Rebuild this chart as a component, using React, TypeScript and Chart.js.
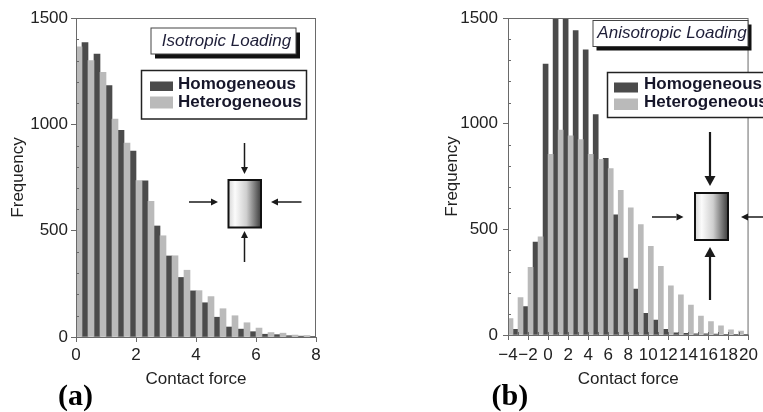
import React, { useEffect, useRef } from 'react';
import { Chart, registerables } from 'chart.js';

Chart.register(...registerables);

// ---------------- data ----------------
const seriesNames = ['Homogeneous', 'Heterogeneous'];
const xAxisTitle = 'Contact force';
const yAxisTitle = 'Frequency';
const yTickValues = [0, 500, 1000, 1500];

// Panel (a) – isotropic loading, bins of width 0.4
const binsA = [0.2, 0.6, 1.0, 1.4, 1.8, 2.2, 2.6, 3.0, 3.4, 3.8, 4.2, 4.6, 5.0, 5.4, 5.8, 6.2, 6.6, 7.0, 7.4, 7.8];
const homA = [1385, 1330, 1182, 972, 874, 734, 522, 381, 280, 217, 161, 93, 47, 37, 25, 13, 11, 6, 4, 3];
const hetA = [1365, 1300, 1245, 1025, 912, 735, 638, 476, 382, 314, 218, 190, 133, 100, 67, 42, 21, 18, 9, 7];
const xTicksA = [0, 2, 4, 6, 8];
const titleA = 'Isotropic Loading';
const letterA = '(a)';

// Panel (b) – anisotropic loading, bins of width 1
const binsB = [-3.5, -2.5, -1.5, -0.5, 0.5, 1.5, 2.5, 3.5, 4.5, 5.5, 6.5, 7.5, 8.5, 9.5, 10.5, 11.5, 12.5, 13.5, 14.5, 15.5, 16.5, 17.5, 18.5, 19.5];
const homB = [27, 135, 440, 1282, 1700, 1700, 1440, 1349, 1043, 836, 569, 364, 217, 103, 71, 27, 10, 8, 6, 5, 4, 3, 3, 2];
const hetB = [78, 177, 320, 465, 855, 970, 942, 925, 855, 831, 787, 684, 602, 523, 420, 325, 233, 190, 141, 90, 63, 43, 24, 19];
const xTicksB = [-4, -2, 0, 2, 4, 6, 8, 10, 12, 14, 16, 18, 20];
const titleB = 'Anisotropic Loading';
const letterB = '(b)';

// ---------------- style ----------------
const W = 763;
const H = 412;
const SANS = "'Liberation Sans', Arial, Helvetica, sans-serif";
const SERIF = "'Liberation Serif', 'Times New Roman', serif";
const LIGHT = '#bababa';
const DARK = '#4b4b4b';
const AXIS = '#6a6a6a';
const TEXT = '#222222';

type Arrow = [number, number, number, number, number, number, number];

interface Spec {
  bins: number[]; hom: number[]; het: number[]; xTicks: number[];
  xMin: number; xMax: number; minorX: number;
  title: string; letter: string;
  canvasLeft: number; canvasWidth: number;
  plotLeft: number; plotRight: number; plotTop: number; plotBottom: number;
  yTickPad: number; xTickPad: number; yTitlePad: number;
  titleBox: { x: number; y: number; w: number; h: number; sx: number; sy: number; tx: number; ty: number };
  legendBox: { x: number; y: number; w: number; h: number; swX: number; swW: number; sw1Y: number; sw1H: number; sw2Y: number; sw2H: number; textX: number; t1Y: number; t2Y: number };
  inset: { x: number; y: number; w: number; h: number };
  arrows: Arrow[];
  letterPos: { x: number; y: number };
}

const specA: Spec = {
  bins: binsA, hom: homA, het: hetA, xTicks: xTicksA, xMin: 0, xMax: 8, minorX: 0,
  title: titleA, letter: letterA,
  canvasLeft: 0, canvasWidth: 380,
  plotLeft: 76, plotRight: 316, plotTop: 18, plotBottom: 337,
  yTickPad: 3, xTickPad: 3, yTitlePad: 8,
  titleBox: { x: 151, y: 28, w: 145, h: 26, sx: 4, sy: 4.5, tx: 226.5, ty: 41.5 },
  legendBox: { x: 141.5, y: 70.5, w: 165, h: 48.5, swX: 150, swW: 23, sw1Y: 81.5, sw1H: 9.5, sw2Y: 96.5, sw2H: 12, textX: 178, t1Y: 84, t2Y: 102 },
  inset: { x: 228.5, y: 180, w: 32.5, h: 47.5 },
  arrows: [
    [244.5, 143, 244.5, 174, 1.5, 7, 7],
    [244.5, 262, 244.5, 231, 1.5, 7, 7],
    [189, 202, 218, 202, 1.5, 7, 7],
    [301.5, 202, 271, 202, 1.5, 7, 7],
  ],
  letterPos: { x: 58, y: 405 },
};

const specB: Spec = {
  bins: binsB, hom: homB, het: hetB, xTicks: xTicksB, xMin: -4, xMax: 20, minorX: 1,
  title: titleB, letter: letterB,
  canvasLeft: 380, canvasWidth: 383,
  plotLeft: 508, plotRight: 750, plotTop: 18, plotBottom: 335,
  yTickPad: 5, xTickPad: 5, yTitlePad: 62,
  titleBox: { x: 593, y: 20.5, w: 155, h: 26, sx: 3.5, sy: 4, tx: 672, ty: 33.5 },
  legendBox: { x: 607.5, y: 72.5, w: 170, h: 45, swX: 614, swW: 24, sw1Y: 82.5, sw1H: 10, sw2Y: 98.5, sw2H: 11.5, textX: 644, t1Y: 84, t2Y: 102.5 },
  inset: { x: 695, y: 193, w: 33, h: 47 },
  arrows: [
    [710, 132, 710, 186, 2.2, 10, 11],
    [710, 300, 710, 247, 2.2, 10, 11],
    [652, 217, 683.5, 217, 1.5, 7, 7],
    [775, 217, 741, 217, 1.5, 7, 7],
  ],
  letterPos: { x: 491.5, y: 405 },
};

function drawArrow(ctx: CanvasRenderingContext2D, a: Arrow) {
  const [x1, y1, x2, y2, lw, hl, hw] = a;
  const ang = Math.atan2(y2 - y1, x2 - x1);
  const bx = x2 - Math.cos(ang) * hl;
  const by = y2 - Math.sin(ang) * hl;
  ctx.lineWidth = lw;
  ctx.beginPath();
  ctx.moveTo(x1, y1);
  ctx.lineTo(bx, by);
  ctx.stroke();
  ctx.beginPath();
  ctx.moveTo(x2, y2);
  ctx.lineTo(bx + (Math.sin(ang) * hw) / 2, by - (Math.cos(ang) * hw) / 2);
  ctx.lineTo(bx - (Math.sin(ang) * hw) / 2, by + (Math.cos(ang) * hw) / 2);
  ctx.closePath();
  ctx.fill();
}

function makeDeco(spec: Spec) {
  return {
    id: 'deco',
    afterDraw(chart: any) {
      const ctx: CanvasRenderingContext2D = chart.ctx;
      const area = chart.chartArea;
      const ys = chart.scales.y;
      const xs = chart.scales.x;
      ctx.save();
      // plot frame
      ctx.strokeStyle = AXIS;
      ctx.lineWidth = 1;
      ctx.strokeRect(area.left + 0.5, area.top + 0.5, area.right - area.left - 1, area.bottom - area.top);
      // minor y ticks (inward)
      ctx.beginPath();
      for (let v = 100; v < 1500; v += 100) {
        if (v % 500 === 0) continue;
        const y = Math.round(ys.getPixelForValue(v)) + 0.5;
        ctx.moveTo(area.left, y);
        ctx.lineTo(area.left + 3, y);
      }
      if (spec.minorX > 0) {
        for (let v = spec.xMin + spec.minorX; v < spec.xMax; v += spec.minorX) {
          const x = Math.round(xs.getPixelForValue(v)) + 0.5;
          ctx.moveTo(x, area.bottom);
          ctx.lineTo(x, area.bottom - 3);
        }
      }
      ctx.stroke();

      // switch to page coordinates
      ctx.translate(-spec.canvasLeft, 0);

      // title box with shadow
      const tb = spec.titleBox;
      ctx.fillStyle = '#111';
      ctx.fillRect(tb.x + tb.sx, tb.y + tb.sy, tb.w, tb.h);
      ctx.fillStyle = '#fff';
      ctx.fillRect(tb.x, tb.y, tb.w, tb.h);
      ctx.strokeStyle = '#444';
      ctx.lineWidth = 1;
      ctx.strokeRect(tb.x, tb.y, tb.w, tb.h);
      ctx.fillStyle = '#1e1e38';
      ctx.font = `italic 17px ${SANS}`;
      ctx.textAlign = 'center';
      ctx.textBaseline = 'middle';
      ctx.fillText(spec.title, tb.tx, tb.ty);

      // legend box
      const lb = spec.legendBox;
      ctx.fillStyle = '#fff';
      ctx.fillRect(lb.x, lb.y, lb.w, lb.h);
      ctx.strokeStyle = '#222';
      ctx.lineWidth = 1.5;
      ctx.strokeRect(lb.x, lb.y, lb.w, lb.h);
      const dsHom = chart.data.datasets[1];
      const dsHet = chart.data.datasets[0];
      ctx.fillStyle = dsHom.backgroundColor;
      ctx.fillRect(lb.swX, lb.sw1Y, lb.swW, lb.sw1H);
      ctx.fillStyle = dsHet.backgroundColor;
      ctx.fillRect(lb.swX, lb.sw2Y, lb.swW, lb.sw2H);
      ctx.fillStyle = '#16162a';
      ctx.font = `bold 17px ${SANS}`;
      ctx.textAlign = 'left';
      ctx.fillText(dsHom.label, lb.textX, lb.t1Y);
      ctx.fillText(dsHet.label, lb.textX, lb.t2Y);

      // inset specimen
      const r = spec.inset;
      const g = ctx.createLinearGradient(r.x, 0, r.x + r.w, 0);
      g.addColorStop(0, '#d6d6d6');
      g.addColorStop(0.2, '#fbfbfb');
      g.addColorStop(0.55, '#cfcfcf');
      g.addColorStop(1, '#3c3c3c');
      ctx.fillStyle = g;
      ctx.fillRect(r.x, r.y, r.w, r.h);
      ctx.strokeStyle = '#111';
      ctx.lineWidth = 2;
      ctx.strokeRect(r.x, r.y, r.w, r.h);

      ctx.strokeStyle = '#1a1a1a';
      ctx.fillStyle = '#1a1a1a';
      spec.arrows.forEach((a) => drawArrow(ctx, a));

      // panel letter
      ctx.fillStyle = '#000';
      ctx.font = `bold 30px ${SERIF}`;
      ctx.textAlign = 'left';
      ctx.textBaseline = 'alphabetic';
      ctx.fillText(spec.letter, spec.letterPos.x, spec.letterPos.y);
      ctx.restore();
    },
  };
}

function fmtTick(v: number) {
  return v < 0 ? '\u2212' + Math.abs(v) : String(v);
}

function buildConfig(spec: Spec): any {
  const left = spec.plotLeft - spec.canvasLeft;
  const right = spec.plotRight - spec.canvasLeft;
  return {
    type: 'bar',
    data: {
      datasets: [
        {
          label: seriesNames[1],
          data: spec.bins.map((x, i) => ({ x, y: spec.het[i] })),
          backgroundColor: LIGHT,
          borderWidth: 0,
          clip: 0,
        },
        {
          label: seriesNames[0],
          data: spec.bins.map((x, i) => ({ x, y: spec.hom[i] })),
          backgroundColor: DARK,
          borderWidth: 0,
          clip: 0,
        },
      ],
    },
    options: {
      responsive: false,
      animation: false,
      events: [],
      layout: { padding: { top: spec.plotTop, right: spec.canvasWidth - right, bottom: 0, left: 0 } },
      datasets: { bar: { barPercentage: 1, categoryPercentage: 1 } },
      plugins: { legend: { display: false }, tooltip: { enabled: false } },
      scales: {
        x: {
          type: 'linear',
          min: spec.xMin,
          max: spec.xMax,
          offset: false,
          afterBuildTicks: (s: any) => {
            s.ticks = spec.xTicks.map((v) => ({ value: v }));
          },
          afterFit: (s: any) => {
            s.height = H - spec.plotBottom;
          },
          ticks: {
            autoSkip: false,
            maxRotation: 0,
            minRotation: 0,
            padding: spec.xTickPad,
            color: TEXT,
            font: { size: 17, family: SANS },
            callback: (v: number) => fmtTick(v),
          },
          grid: { display: true, drawOnChartArea: false, drawTicks: true, tickLength: 5, color: AXIS, offset: false },
          border: { display: true, color: AXIS, width: 1 },
          title: {
            display: true,
            text: xAxisTitle,
            color: TEXT,
            font: { size: 17, family: SANS },
            padding: { top: 0, bottom: 22 },
          },
        },
        y: {
          type: 'linear',
          min: 0,
          max: 1500,
          afterBuildTicks: (s: any) => {
            s.ticks = yTickValues.map((v) => ({ value: v }));
          },
          afterFit: (s: any) => {
            s.width = left;
          },
          ticks: {
            padding: spec.yTickPad,
            color: TEXT,
            font: { size: 17, family: SANS },
            callback: (v: number) => String(v),
          },
          grid: { display: true, drawOnChartArea: false, drawTicks: true, tickLength: 5, color: AXIS },
          border: { display: true, color: AXIS, width: 1 },
          title: {
            display: true,
            text: yAxisTitle,
            color: TEXT,
            font: { size: 17, family: SANS },
            padding: { top: spec.yTitlePad, bottom: 0 },
          },
        },
      },
    },
    plugins: [makeDeco(spec)],
  };
}

function Panel({ spec }: { spec: Spec }) {
  const ref = useRef<HTMLCanvasElement>(null);
  useEffect(() => {
    if (!ref.current) return;
    const chart = new Chart(ref.current, buildConfig(spec));
    return () => chart.destroy();
  }, [spec]);
  return (
    <canvas
      ref={ref}
      width={spec.canvasWidth}
      height={H}
      style={{ position: 'absolute', left: spec.canvasLeft, top: 0, width: spec.canvasWidth, height: H }}
    />
  );
}

export default function App() {
  return (
    <div style={{ position: 'absolute', left: 0, top: 0, width: W, height: H, background: '#fff', overflow: 'hidden' }}>
      <Panel spec={specA} />
      <Panel spec={specB} />
    </div>
  );
}
